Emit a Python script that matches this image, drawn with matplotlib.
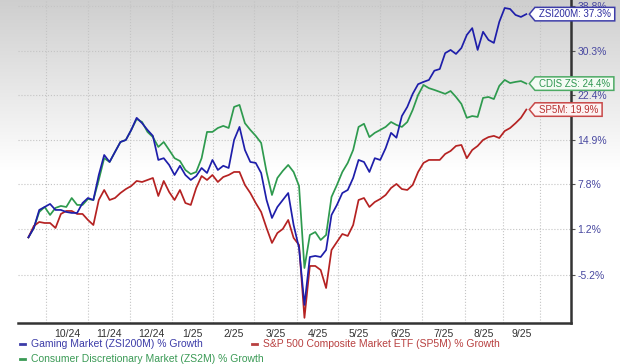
import numpy as np
import pandas as pd
import matplotlib
matplotlib.use("Agg")
import matplotlib.pyplot as plt
import matplotlib.dates as mdates
from matplotlib.path import Path
from matplotlib.lines import Line2D
from matplotlib.ticker import FixedLocator, NullLocator, FixedFormatter, NullFormatter

# ---------------- data ----------------
dates = pd.date_range("2024-09-18", periods=93, freq="4D")

gaming = [0.0, 1.34, 3.97, 4.41, 4.86, 3.97, 3.97, 3.67, 3.53, 3.53,
          5.0, 5.75, 5.45, 9.26, 12.41, 11.3, 12.9, 14.5, 14.83, 16.48,
          18.5, 17.6, 16.48, 15.5, 11.62, 11.9, 10.83, 9.26, 10.7, 9.26,
          8.49, 9.1, 10.35, 9.57, 11.62, 10.04, 10.7, 10.35, 14.83, 16.98,
          13.21, 11.3, 11.15, 9.57, 5.45, 2.79, 4.41, 5.45, 6.5, 1.77,
          -1.5, -9.15, -2.75, -2.6, -2.75, -1.78, 3.23, 4.71, 6.5, 6.96,
          8.8, 11.62, 11.3, 9.73, 11.9, 11.62, 13.5, 16.0, 15.2, 18.8,
          20.35, 22.6, 24.3, 24.7, 25.05, 26.7, 27.0, 29.9, 30.49, 29.75,
          30.85, 33.3, 34.6, 30.49, 33.9, 32.36, 31.8, 35.8, 38.5, 38.3,
          37.14, 36.75, 37.3]

consumer = [0.0, 1.34, 3.67, 4.41, 3.23, 4.27, 4.56, 4.41, 5.75, 4.71,
            4.71, 5.6, 5.45, 8.49, 11.9, 11.3, 12.9, 14.5, 14.83, 16.48,
            18.3, 17.8, 16.15, 15.3, 13.7, 14.5, 13.21, 11.9, 11.45, 10.04,
            9.4, 9.73, 11.9, 16.15, 16.15, 16.8, 17.15, 16.8, 20.35, 20.69,
            17.6, 16.48, 15.5, 14.35, 9.73, 6.2, 8.8, 9.9, 10.83, 9.73,
            7.57, -4.26, 0.34, 0.76, -0.37, 0.34, 5.9, 7.72, 9.73, 11.15,
            13.21, 16.98, 17.5, 15.3, 16.0, 16.48, 16.98, 17.8, 17.31, 16.98,
            17.8, 19.84, 22.41, 24.16, 23.6, 23.29, 22.95, 22.6, 23.1, 22.06,
            20.86, 18.5, 18.8, 18.65, 21.9, 22.06, 21.7, 24.0, 25.05, 24.5,
            24.7, 24.85, 24.4]

sp500 = [0.0, 1.63, 2.21, 2.06, 2.06, 1.34, 3.38, 3.82, 3.82, 3.38,
         3.38, 2.5, 1.77, 5.45, 6.96, 5.45, 5.75, 6.5, 7.1, 7.57,
         8.34, 8.18, 8.49, 8.8, 6.05, 8.34, 6.66, 5.45, 6.96, 5.0,
         4.71, 7.26, 9.1, 8.49, 9.26, 8.18, 8.95, 9.26, 9.73, 9.73,
         7.72, 6.5, 5.0, 3.67, 1.34, -0.79, 0.62, 1.2, 2.5, -0.08,
         -1.07, -10.8, -3.98, -3.98, -4.53, -6.94, -1.78, -0.65, 0.48, 0.2,
         1.77, 5.45, 5.75, 4.41, 5.15, 5.6, 6.2, 7.26, 7.88, 7.1,
         6.96, 7.72, 9.73, 11.15, 11.62, 11.62, 11.62, 12.57, 13.05, 13.86,
         14.02, 11.9, 13.21, 13.86, 14.83, 15.3, 15.5, 15.15, 16.3, 16.8,
         17.6, 18.5, 19.9]

ytick_vals = [38.8, 30.3, 22.4, 14.9, 7.8, 1.2, -5.2]
month_labels = ["10/24", "11/24", "12/24", "1/25", "2/25", "3/25", "4/25",
                "5/25", "6/25", "7/25", "8/25", "9/25"]
axis_origin = pd.Timestamp("2024-10-01")
month_edge_days = [0, 31.0, 62.1, 93.1, 123.4, 153.7, 185.5, 215.8,
                   246.9, 277.9, 309.7, 337.8, 365.1]

series_names = ["Gaming Market (ZSI200M) % Growth",
                "S&P 500 Composite Market ETF (SP5M) % Growth",
                "Consumer Discretionary Market (ZS2M) % Growth"]
tag_names = ["ZSI200M", "CDIS ZS", "SP5M"]

# ---------------- style ----------------
plt.rcParams['font.family'] = ['Liberation Sans', 'DejaVu Sans']
W, H = 620, 364
fig = plt.figure(figsize=(W / 100, H / 100), dpi=100)

# background gradient (grey at top fading to white)
bg = fig.add_axes([0, 0, 1, 1], zorder=-10)
bg.axis('off')
ypix = np.arange(H)
v = 1 - 0.19 * np.clip(1 - ypix / 170.0, 0, 1)
img = np.repeat(v[:, None, None], 3, axis=2)
bg.imshow(img, aspect='auto', extent=[0, 1, 0, 1], interpolation='bilinear')

ax = fig.add_axes([18 / W, 41 / H, 553 / W, 323 / H])
ax.patch.set_alpha(0)

c_blue, c_green, c_red = '#1e1eaa', '#2e9a4e', '#b52222'

ax.plot(dates, 1 + np.array(consumer) / 100, color=c_green, lw=1.25, zorder=3)
ax.plot(dates, 1 + np.array(sp500) / 100, color=c_red, lw=1.25, zorder=4)
ax.plot(dates, 1 + np.array(gaming) / 100, color=c_blue, lw=1.25, zorder=5)

ax.set_yscale('log')
ax.set_ylim(0.8855, 1.4008)
ax.set_xlim(axis_origin + pd.Timedelta(days=-20.7), axis_origin + pd.Timedelta(days=388))

# y axis on the right
ax.yaxis.tick_right()
ax.yaxis.set_major_locator(FixedLocator([1 + t / 100 for t in ytick_vals]))
ax.yaxis.set_major_formatter(FixedFormatter([f"{t}%" for t in ytick_vals]))
ax.yaxis.set_minor_locator(NullLocator())
ax.yaxis.set_minor_formatter(NullFormatter())
ax.tick_params(axis='y', which='major', length=3, width=0.8, color='#555555',
               labelcolor='#4848a0', labelsize=7.5, pad=1.5)

# x axis: month edges as grid lines, labels centred between
edges = [mdates.date2num(axis_origin + pd.Timedelta(days=d)) for d in month_edge_days]
mids = [(a + b) / 2 for a, b in zip(edges[:-1], edges[1:])]
ax.xaxis.set_minor_locator(FixedLocator(edges))
ax.xaxis.set_major_locator(FixedLocator(mids))
ax.xaxis.set_major_formatter(FixedFormatter(month_labels))
ax.xaxis.set_minor_formatter(NullFormatter())
ax.tick_params(axis='x', which='both', length=0, labelcolor='#333333',
               labelsize=7.5, pad=4)

ax.grid(which='minor', axis='x', color='#c4c4c4', ls=':', lw=0.8)
ax.grid(which='major', axis='y', color='#c4c4c4', ls=':', lw=0.8)
ax.grid(which='major', axis='x', visible=False)

for s in ['left', 'top']:
    ax.spines[s].set_visible(False)
for s in ['right', 'bottom']:
    ax.spines[s].set_color('#333333')
    ax.spines[s].set_linewidth(1.8)


# tag-shaped label boxes
def tag_box(x0, y0, width, height, mutation_size):
    px = 0.4 * mutation_size
    py = 0.18 * mutation_size
    x0 = x0 - px
    x1 = x0 + width + 2 * px
    y0 = y0 - py
    y1 = y0 + height + 2 * py
    ym = (y0 + y1) / 2
    tip = (y1 - y0) * 0.42
    return Path([(x0, y0), (x1, y0), (x1, y1), (x0, y1), (x0 - tip, ym), (x0, y0)],
                closed=True)


tags = [
    (gaming, tag_names[0], '#2a2a9e', '#3c3ca8', '#ffffff'),
    (consumer, tag_names[1], '#2e9650', '#4caa64', '#f4fbf4'),
    (sp500, tag_names[2], '#b83030', '#c84848', '#fdf3f3'),
]
for vals, name, tc, ec, fc in tags:
    ax.annotate(f"{name}: {vals[-1]:.1f}%", xy=(dates[-1], 1 + vals[-1] / 100),
                xytext=(9, 0), textcoords='offset points', ha='left', va='center',
                fontsize=7, color=tc, annotation_clip=False, zorder=10,
                bbox=dict(boxstyle=tag_box, fc=fc, ec=ec, lw=1.1))

# legend below
leg_items = [
    (series_names[0], '#3c3ca8', 20, 344),
    (series_names[1], '#b84040', 252, 344),
    (series_names[2], '#3a9a55', 20, 359),
]
for label, col, px, py in leg_items:
    fig.add_artist(Line2D([px / W, (px + 5) / W], [1 - py / H, 1 - py / H],
                          color=col, lw=2, transform=fig.transFigure))
    fig.text((px + 11) / W, 1 - py / H, label, color=col, fontsize=7.5,
             ha='left', va='center')

fig.savefig("out.png", dpi=100)
